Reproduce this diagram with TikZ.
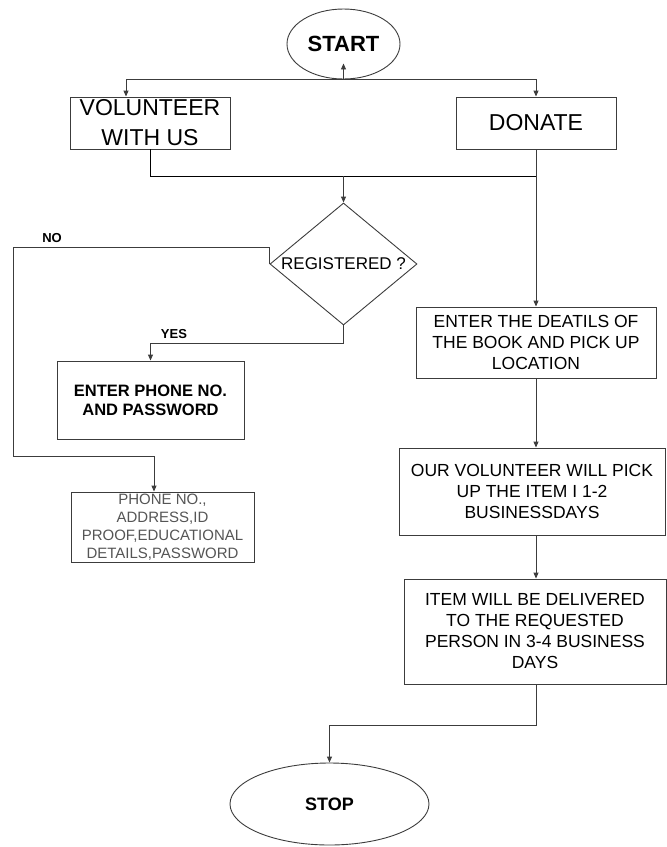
\documentclass[tikz,border=0pt]{standalone}
\usepackage{fontspec}
\setmainfont{Liberation Sans}
\definecolor{linegray}{RGB}{60, 60, 60}
\definecolor{softgray}{RGB}{85, 85, 85}
\usetikzlibrary{shapes.geometric, arrows.meta, calc}

\tikzset{
  stepbox/.style={draw=linegray, rectangle, align=center, inner sep=2pt, font=\fontsize{17.5}{21}\selectfont},
  terminal/.style={draw=linegray, ellipse, inner sep=0pt},
  decision/.style={draw=linegray, diamond, inner sep=0pt, font=\fontsize{17}{21}\selectfont},
  flow/.style={draw=linegray, -{Triangle[length=6pt, width=5pt]}},
  answer/.style={font=\fontsize{13}{15}\selectfont\bfseries},
}

\begin{document}
\begin{tikzpicture}[x=1pt, y=-1pt, line width=0.9pt]
  \useasboundingbox (0,0) rectangle (667,847);

  % start and the two choices
  \node[terminal, minimum width=113, minimum height=70, font=\fontsize{22}{26}\selectfont\bfseries] (start) at (343.5,44) {START};
  \node[stepbox, minimum width=160, minimum height=52, font=\fontsize{23}{30}\selectfont] (vol) at (150,123) {VOLUNTEER\\WITH US};
  \node[stepbox, minimum width=160, minimum height=52, font=\fontsize{23}{30}\selectfont] (donate) at (536,123) {DONATE};

  \coordinate (split) at (start.south);
  \draw[flow] (split) -- ([yshift=16pt]start.south);
  \draw[flow] (split) -| ([xshift=-24pt]vol.north);
  \draw[flow] (split) -| (donate.north);

  % volunteer side
  \node[decision, minimum width=147, minimum height=122] (reg) at (343.5,264) {\makebox[0pt]{REGISTERED ?}};
  \node[stepbox, minimum width=187, minimum height=78, font=\fontsize{16.5}{19}\selectfont\bfseries] (phone) at (150.5,400) {ENTER PHONE NO.\\AND PASSWORD};
  \node[stepbox, inner sep=0pt, minimum width=183, minimum height=70, text=softgray, font=\fontsize{15}{18}\selectfont] (signup) at (162.5,527) {PHONE NO.,\\ADDRESS,ID\\PROOF,EDUCATIONAL\\DETAILS,PASSWORD};

  \coordinate (merge) at (343.5,176);
  \draw (vol.south) |- (merge);
  \draw (merge) -- (donate.south |- merge);
  \draw[flow] (merge) -- (reg.north);

  \coordinate (no top) at (13,247);
  \coordinate (no low) at (13,456);
  \draw[flow] (reg.west) |- (no top) -- (no low) -| ([xshift=-8.5pt]signup.north);
  \node[answer] (no) at (52,238) {NO};

  \coordinate (yes turn) at (343.5,343);
  \draw[flow] (reg.south) -- (yes turn) -| (phone.north);
  \node[answer] (yes) at (174,334) {YES};

  % donate side
  \node[stepbox, minimum width=240, minimum height=71] (details) at (536,342.5) {ENTER THE DEATILS OF\\THE BOOK AND PICK UP\\LOCATION};
  \node[stepbox, minimum width=266, minimum height=87] (pickup) at (532,491.5) {OUR VOLUNTEER WILL PICK\\UP THE ITEM I 1-2\\BUSINESSDAYS};
  \node[stepbox, minimum width=262, minimum height=105] (deliver) at (535,631.5) {ITEM WILL BE DELIVERED\\TO THE REQUESTED\\PERSON IN 3-4 BUSINESS\\DAYS};

  \draw[flow] (donate.south) -- (details.north);
  \draw[flow] (details.south) -- (details.south |- pickup.north);
  \draw[flow] (details.south |- pickup.south) -- (details.south |- deliver.north);

  % stop
  \node[terminal, minimum width=199, minimum height=82, font=\fontsize{18}{22}\selectfont\bfseries] (stop) at (329.5,804) {STOP};
  \coordinate (stop turn) at (536,725);
  \draw[flow] (details.south |- deliver.south) -- (stop turn) -| (stop.north);
\end{tikzpicture}
\end{document}
